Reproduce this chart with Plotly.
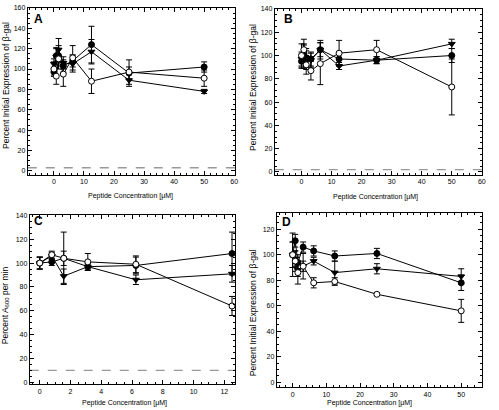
import plotly.graph_objects as go

# ---------------- data ----------------
conc = [0, 0.78, 1.56, 3.125, 6.25, 12.5, 25, 50]
conc_c = [0, 0.78, 1.56, 3.125, 6.25, 12.5]

a_circ = [97, 113, 113, 103, 108, 124, 96, 102]
a_circ_err = [4, 8, 10, 6, 6, 18, 6, 5]
a_tri = [105, 112, 119, 106, 105, 117, 89, 78]
a_tri_err = [5, 8, 11, 6, 8, 12, 6, 2]
a_open = [100, 93, 110, 95, 111, 88, 97, 91]
a_open_err = [7, 8, 10, 12, 12, 12, 12, 8]

b_circ = [95, 102, 98, 97, 105, 97, 96, 100]
b_circ_err = [6, 8, 8, 6, 8, 6, 3, 6]
b_tri = [97, 99, 96, 96, 105, 91, 96, 110]
b_tri_err = [6, 10, 8, 6, 6, 3, 3, 4]
b_open = [100, 105, 92, 87, 93, 102, 105, 73]
b_open_err = [10, 9, 8, 8, 18, 11, 8, 24]

c_circ = [100, 101, 104, 97, 98, 108]
c_circ_err = [5, 3, 6, 3, 7, 18]
c_tri = [100, 106, 89, 97, 86, 91]
c_tri_err = [5, 3, 6, 3, 4, 7]
c_open = [100, 107, 104, 101, 99, 64]
c_open_err = [5, 3, 22, 7, 7, 8]

d_circ = [100, 111, 94, 106, 103, 99, 101, 78]
d_circ_err = [10, 5, 6, 4, 4, 4, 4, 6]
d_tri = [100, 97, 88, 91, 95, 86, 89, 83]
d_tri_err = [10, 6, 5, 4, 3, 9, 4, 6]
d_open = [100, 95, 86, 91, 78, 79, 69, 56]
d_open_err = [17, 8, 9, 10, 4, 3, 1, 9]

baseline = {"A": 3, "B": 2, "C": 10}

panels = [
    ("A", conc, a_circ, a_circ_err, a_tri, a_tri_err, a_open, a_open_err),
    ("B", conc, b_circ, b_circ_err, b_tri, b_tri_err, b_open, b_open_err),
    ("C", conc_c, c_circ, c_circ_err, c_tri, c_tri_err, c_open, c_open_err),
    ("D", conc, d_circ, d_circ_err, d_tri, d_tri_err, d_open, d_open_err),
]

W, H = 499, 410
def px(x):
    return x / W
def py(y):
    return 1 - y / H

# layout geometry (pixel boxes: left, right, top, bottom)
boxes = {
    "A": (28, 237, 4, 173),
    "B": (277, 486, 5, 173),
    "C": (30, 237, 214, 385),
    "D": (279, 486, 212, 388),
}
xranges = {"A": [-8.7, 60.3], "B": [-8.9, 60.1], "C": [-0.65, 12.7], "D": [-4.7, 56.2]}
yranges = {"A": [-4, 160], "B": [-2.5, 140], "C": [-1.7, 140], "D": [-3.9, 132.4]}
xdt = {"A": 10, "B": 10, "C": 2, "D": 10}
xminor = {"A": 2, "B": 2, "C": 0.5, "D": 2}
ydt = {"A": 20, "B": 20, "C": 20, "D": 20}

fig = go.Figure()
font = "Liberation Sans, Arial, sans-serif"

for i, (name, xs, c, ce, t, te, o, oe) in enumerate(panels):
    n = "" if i == 0 else str(i + 1)
    xa, ya = "x" + n, "y" + n
    common = dict(mode="lines+markers", line=dict(color="black", width=1),
                  xaxis=xa, yaxis=ya, showlegend=False)
    eb = lambda arr: dict(type="data", array=arr, visible=True, color="black",
                          thickness=1, width=3)
    if name in baseline:
        fig.add_trace(go.Scatter(x=xranges[name], y=[baseline[name]] * 2, mode="lines",
                                 line=dict(color="#999999", width=1.3, dash="dash"),
                                 xaxis=xa, yaxis=ya, showlegend=False, hoverinfo="skip"))
    fig.add_trace(go.Scatter(x=xs, y=c, error_y=eb(ce),
                             marker=dict(symbol="circle", size=6, color="black",
                                         line=dict(color="black", width=1)), **common))
    fig.add_trace(go.Scatter(x=xs, y=t, error_y=eb(te),
                             marker=dict(symbol="triangle-down", size=6, color="black",
                                         line=dict(color="black", width=1)), **common))
    fig.add_trace(go.Scatter(x=xs, y=o, error_y=eb(oe),
                             marker=dict(symbol="circle", size=6, color="white",
                                         line=dict(color="black", width=1)), **common))
    l, r, tp, b = boxes[name]
    axcommon = dict(showgrid=False, zeroline=False, showline=True, linecolor="black",
                    linewidth=1, mirror="allticks", ticks="inside", ticklen=4,
                    tickwidth=1, tickcolor="black",
                    tickfont=dict(family=font, size=7, color="black"))
    fig.update_layout(**{
        "xaxis" + n: dict(domain=[px(l), px(r)], range=xranges[name], anchor=ya,
                          dtick=xdt[name], tick0=0,
                          minor=dict(dtick=xminor[name], ticks="inside", ticklen=2,
                                     tickcolor="black"),
                          **axcommon),
        "yaxis" + n: dict(domain=[py(b), py(tp)], range=yranges[name], anchor=xa,
                          dtick=ydt[name], tick0=0,
                          minor=dict(dtick=5, ticks="inside", ticklen=2,
                                     tickcolor="black"),
                          **axcommon),
    })

annos = []
letters = {"A": (39, 15), "B": (291, 15), "C": (39, 220), "D": (289, 221)}
for k, (x, y) in letters.items():
    annos.append(dict(text="<b>%s</b>" % k, x=px(x), y=py(y), xref="paper", yref="paper",
                      xanchor="center", yanchor="middle",
                      showarrow=False, font=dict(family=font, size=12, color="black")))
xt = "Peptide Concentration [μM]"
for x, y in [(132, 194), (379, 195), (126, 404), (372, 404)]:
    annos.append(dict(text=xt, x=px(x), y=py(y), xref="paper", yref="paper",
                      xanchor="center", yanchor="middle",
                      showarrow=False, font=dict(family=font, size=7, color="black")))
yt = "Percent Initial Expression of β-gal"
for txt, x, y in [(yt, 6, 82), (yt, 255, 84), ("Percent A<sub>600</sub> per min", 5, 305),
                  (yt, 255, 312)]:
    annos.append(dict(text=txt, x=px(x), y=py(y), xref="paper", yref="paper",
                      xanchor="center", yanchor="middle",
                      showarrow=False, textangle=-90,
                      font=dict(family=font, size=8.5, color="black")))

fig.update_layout(width=W, height=H, margin=dict(l=0, r=0, t=0, b=0),
                  paper_bgcolor="white", plot_bgcolor="white", annotations=annos)
fig.write_html("out.html", config={"displayModeBar": False},
               post_script="document.body.style.margin='0';document.body.style.overflow='hidden';")
